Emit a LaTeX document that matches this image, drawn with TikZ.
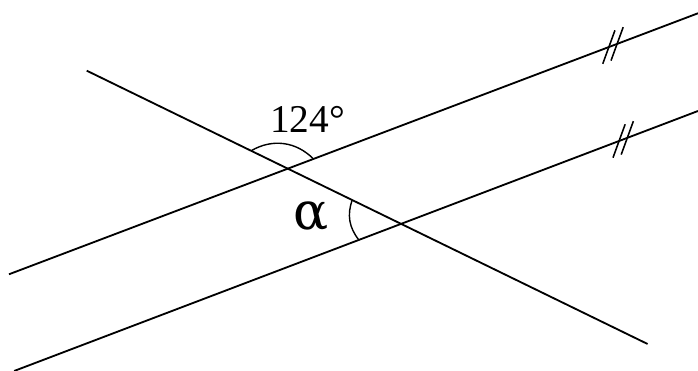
\documentclass[tikz,border=0pt]{standalone}
\usepackage{fontspec}
\setmainfont{Liberation Serif}
\newfontfamily\greekfont{DejaVu Serif}
\usepackage{tikz}
\usetikzlibrary{calc}

\begin{document}
\begin{tikzpicture}[line/.style={line width=1.3pt},
  anglearc/.style={line width=1pt},
  parmark/.style={line width=1.1pt},
  lbl/.style={inner sep=0pt,anchor=base}]
\useasboundingbox (0,0) rectangle (17.45,9.275);
% lines
\coordinate (T1) at (2.168,7.508);
\coordinate (T2) at (16.19,0.675);
\coordinate (U1) at (0.225,2.418);
\coordinate (U2) at (17.45,8.943);
\coordinate (L1) at (0.353,0);
\coordinate (L2) at (17.45,6.5);
\draw[line] (T1) -- (T2);
\draw[line] (U1) -- (U2);
\draw[line] (L1) -- (L2);
\coordinate (I1) at (intersection of T1--T2 and U1--U2);
\coordinate (I2) at (intersection of T1--T2 and L1--L2);
% angles
\coordinate (a1) at ($(I1)!1.02cm!(T1)$);
\coordinate (b1) at ($(I1)!0.685cm!(U2)$);
\draw[anglearc] (a1) to[bend left=38] (b1);
\coordinate (a2) at ($(I2)!1.36cm!(T1)$);
\coordinate (b2) at ($(I2)!1.13cm!(L1)$);
\draw[anglearc] (a2) to[bend right=29] (b2);
\node[lbl,font=\fontsize{28}{28}\selectfont] (top) at (7.69,5.95) {124°};
\node[lbl,font=\greekfont\fontsize{37}{37}\selectfont] (alpha) at (7.775,3.525) {α};
% parallel marks
\coordinate (pu) at ($(U1)!0.8766!(U2)$);
\coordinate (pl) at ($(L1)!0.8906!(L2)$);
\foreach \p in {pu,pl}{
  \foreach \s in {-0.11,0.11}
    \draw[parmark] ($(\p)+(20.8:\s)+(250:0.445)$) -- ($(\p)+(20.8:\s)+(70:0.445)$);
}
\end{tikzpicture}
\end{document}
